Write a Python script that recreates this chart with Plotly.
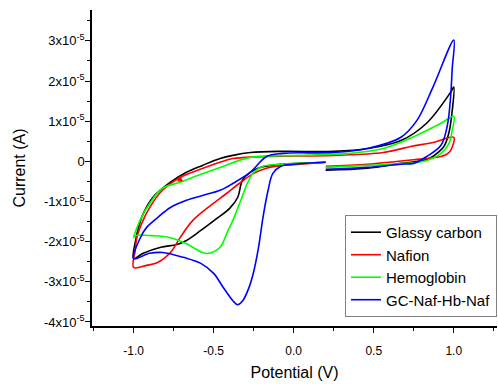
import numpy as np
import plotly.graph_objects as go

# Current values are given in units of 1e-5 A
SCALE = 1e-5

gc_v = [0.20, 0.46, 0.67, 0.78, 0.85, 0.91, 0.94, 0.97, 0.99, 1.00,
        0.98, 0.83, 0.67, 0.46, 0.25, -0.07, -0.27, -0.38, -0.46, -0.57, -0.67, -0.77, -0.88, -0.94, -0.97, -0.985, -1.00,
        -0.94, -0.83, -0.73, -0.67, -0.58, -0.48, -0.40, -0.35, -0.32, -0.27, -0.21, -0.07, 0.04, 0.20]
gc_i = [-0.22, -0.17, -0.05, 0.00, 0.08, 0.25, 0.38, 0.72, 1.25, 1.85,
        1.72, 0.95, 0.52, 0.32, 0.25, 0.25, 0.22, 0.15, 0.07, -0.10, -0.27, -0.52, -0.90, -1.30, -1.65, -1.92, -2.42,
        -2.29, -2.14, -2.07, -1.97, -1.72, -1.42, -1.17, -0.90, -0.47, -0.27, -0.15, -0.07, -0.05, -0.02]

naf_v = [0.20, 0.46, 0.77, 0.92, 0.97, 0.99, 1.00,
         0.87, 0.73, 0.56, 0.25, -0.17, -0.38, -0.46, -0.60, -0.71, -0.82, -0.90, -0.95, -0.98, -0.99, -1.00,
         -0.92, -0.85, -0.77, -0.71, -0.63, -0.52, -0.42, -0.33, -0.25, -0.17, -0.07, 0.04, 0.20]
naf_i = [-0.12, -0.07, 0.05, 0.12, 0.22, 0.35, 0.60,
         0.47, 0.37, 0.22, 0.15, 0.12, 0.07, -0.02, -0.22, -0.40, -0.72, -1.15, -1.55, -1.90, -2.22, -2.64,
         -2.59, -2.52, -2.27, -1.90, -1.47, -1.10, -0.80, -0.52, -0.30, -0.17, -0.10, -0.07, -0.02]

hb_v = [0.20, 0.46, 0.71, 0.83, 0.92, 0.97, 0.99, 1.00,
        0.92, 0.77, 0.56, 0.35, 0.04, -0.27, -0.46, -0.60, -0.71, -0.82, -0.90, -0.96, -1.00,
        -0.99, -0.88, -0.77, -0.67, -0.57, -0.53, -0.46, -0.41, -0.38, -0.33, -0.29, -0.25, -0.19, -0.07, 0.04, 0.20]
hb_i = [-0.15, -0.10, -0.05, 0.02, 0.20, 0.45, 0.77, 1.12,
        0.95, 0.65, 0.32, 0.20, 0.15, 0.10, -0.15, -0.35, -0.52, -0.67, -1.05, -1.47, -1.90,
        -1.85, -1.85, -1.90, -2.05, -2.27, -2.29, -2.14, -1.72, -1.47, -0.97, -0.55, -0.27, -0.12, -0.07, -0.05, -0.02]

bio_v = [0.20, 0.46, 0.67, 0.75, 0.83, 0.92, 0.96, 0.98, 0.99, 1.00,
         0.87, 0.77, 0.67, 0.46, 0.25, -0.07, -0.17, -0.27, -0.38, -0.46, -0.57, -0.67, -0.77, -0.85, -0.92, -0.96, -1.00,
         -0.90, -0.82, -0.69, -0.58, -0.50, -0.44, -0.38, -0.35, -0.32, -0.28, -0.25, -0.22, -0.19, -0.16, -0.13, -0.08, 0.00, 0.20]
bio_i = [-0.20, -0.15, -0.07, -0.05, 0.12, 0.40, 0.90, 1.60, 2.30, 3.02,
         1.85, 1.02, 0.60, 0.32, 0.22, 0.20, 0.12, -0.27, -0.55, -0.72, -0.85, -0.97, -1.15, -1.40, -1.65, -1.92, -2.42,
         -2.29, -2.27, -2.39, -2.54, -2.79, -3.14, -3.47, -3.57, -3.48, -3.15, -2.75, -2.15, -1.35, -0.72, -0.30, -0.12, -0.07, -0.02]

marker_v = [-0.71]
marker_i = [-0.35]

names = ["Glassy carbon", "Nafion", "Hemoglobin", "GC-Naf-Hb-Naf"]
colors = ["#000000", "#ff0000", "#00ff00", "#0000ff"]
xs = [gc_v, naf_v, hb_v, bio_v]
ys = [gc_i, naf_i, hb_i, bio_i]

x_ticks = [-1.0, -0.5, 0.0, 0.5, 1.0]
x_ticktext = ["-1.0", "-0.5", "0.0", "0.5", "1.0"]
y_tick_units = [-4, -3, -2, -1, 0, 1, 2, 3]
y_ticktext = ["0" if k == 0 else f"{k}x10<sup>-5</sup>" for k in y_tick_units]

fig = go.Figure()
for n, v, i, c in zip(names, xs, ys, colors):
    fig.add_trace(go.Scatter(x=v, y=np.array(i) * SCALE, mode="lines", name=n,
                             line=dict(color=c, width=1.6, shape="spline", smoothing=1.0)))

fig.add_trace(go.Scatter(x=marker_v, y=np.array(marker_i) * SCALE, mode="markers", showlegend=False,
                         marker=dict(symbol="arrow-up", size=6, color="#ff0000")))

font_family = "Liberation Sans, Arial, sans-serif"
fig.update_layout(
    width=498, height=384,
    margin=dict(l=92, r=1, t=10, b=58),
    plot_bgcolor="white", paper_bgcolor="white",
    font=dict(family=font_family, color="black"),
    showlegend=True,
    legend=dict(x=1, xanchor="right", y=0.19, yanchor="middle",
                bordercolor="#808080", borderwidth=1, bgcolor="white",
                font=dict(size=15, family=font_family), tracegroupgap=0),
    xaxis=dict(range=[-1.26, 1.27], tickvals=x_ticks, ticktext=x_ticktext,
               ticks="outside", ticklen=5, tickwidth=1, tickcolor="black",
               minor=dict(tickvals=list(np.arange(-1.25, 1.3, 0.5)), ticks="outside", ticklen=3, tickcolor="black"),
               showline=True, linecolor="black", linewidth=1.5,
               showgrid=False, zeroline=False, tickfont=dict(size=12),
               ticklabelstandoff=8,
               title=dict(text="Potential (V)", font=dict(size=16), standoff=10)),
    yaxis=dict(range=[-4.1e-5, 3.77e-5], tickvals=[k * SCALE for k in y_tick_units], ticktext=y_ticktext,
               ticks="outside", ticklen=5, tickwidth=1, tickcolor="black",
               minor=dict(tickvals=[k * SCALE for k in np.arange(-3.5, 3.6, 1.0)], ticks="outside", ticklen=3, tickcolor="black"),
               showline=True, linecolor="black", linewidth=1.5,
               showgrid=False, zeroline=False, tickfont=dict(size=13),
               ticklabelstandoff=-2,
               title=dict(text="Current (A)", font=dict(size=16), standoff=14)),
)

fig.write_html("out.html")
